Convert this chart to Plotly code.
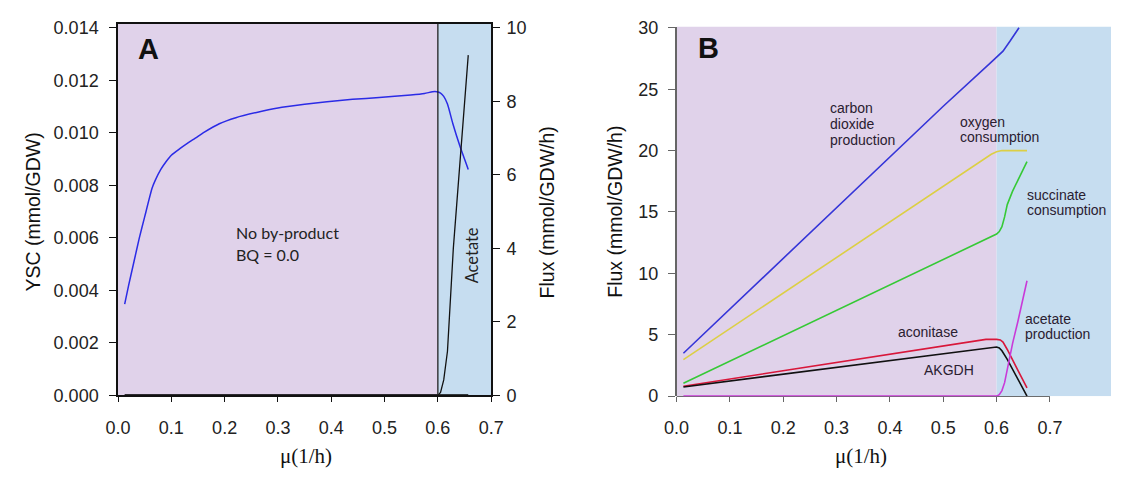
import plotly.graph_objects as go

# ---------------- Panel A data ----------------
ysc_mu = [0.0125, 0.02, 0.03, 0.04, 0.05, 0.064, 0.07, 0.08, 0.09, 0.10, 0.116, 0.13, 0.145,
          0.162, 0.19, 0.221, 0.26, 0.30, 0.35, 0.392, 0.44, 0.49, 0.549, 0.575, 0.59, 0.598,
          0.605, 0.611, 0.618, 0.628, 0.641, 0.657]
ysc_val = [0.00348, 0.0042, 0.0051, 0.0060, 0.0068, 0.0079, 0.0082, 0.0086, 0.0089, 0.00915,
           0.0094, 0.0096, 0.0098, 0.01003, 0.01035, 0.01058, 0.01078, 0.01095, 0.01109, 0.01119,
           0.01128, 0.01135, 0.01144, 0.0115, 0.01157, 0.01157, 0.01152, 0.01139, 0.0111, 0.01036,
           0.00952, 0.00861]

acetA_mu = [0.0125, 0.6, 0.605, 0.611, 0.618, 0.624, 0.629, 0.657]
acetA_flux = [0.0, 0.0, 0.08, 0.42, 1.2, 2.77, 4.0, 9.26]

otherA_mu = [0.0125, 0.657]
otherA_flux = [0.0, 0.0]

# ---------------- Panel B data ----------------
co2_mu = [0.0128, 0.1, 0.2, 0.3, 0.4, 0.5, 0.59, 0.6, 0.612, 0.625, 0.642]
co2_val = [3.49, 7.09, 11.22, 15.35, 19.48, 23.61, 27.2, 27.6, 28.1, 28.9, 30.0]

o2_mu = [0.0128, 0.1, 0.2, 0.3, 0.4, 0.5, 0.59, 0.6, 0.61, 0.62, 0.657]
o2_val = [2.97, 5.5, 8.4, 11.3, 14.2, 17.1, 19.7, 19.9, 20.0, 20.0, 20.0]

succ_mu = [0.0128, 0.1, 0.2, 0.3, 0.4, 0.5, 0.59, 0.6, 0.605, 0.61, 0.615, 0.62, 0.63, 0.64, 0.657]
succ_val = [1.05, 2.85, 4.91, 6.97, 9.03, 11.09, 12.94, 13.2, 13.4, 13.8, 14.6, 15.6, 16.7, 17.6, 19.1]

acon_mu = [0.0128, 0.1, 0.2, 0.3, 0.4, 0.5, 0.58, 0.6, 0.607, 0.612, 0.62, 0.64, 0.657]
acon_val = [0.81, 1.40, 2.07, 2.74, 3.41, 4.08, 4.62, 4.62, 4.58, 4.4, 3.8, 2.1, 0.68]

akgdh_mu = [0.0128, 0.1, 0.2, 0.3, 0.4, 0.5, 0.59, 0.6, 0.605, 0.61, 0.62, 0.657]
akgdh_val = [0.75, 1.24, 1.80, 2.37, 2.93, 3.49, 4.0, 4.0, 3.93, 3.7, 3.0, 0.0]

acetB_mu = [0.0128, 0.52, 0.535, 0.55, 0.6, 0.605, 0.61, 0.615, 0.62, 0.625, 0.63, 0.64, 0.657]
acetB_val = [0.0, 0.0, 0.06, 0.0, 0.0, 0.12, 0.45, 1.1, 2.2, 3.3, 4.3, 6.1, 9.4]

x_ticks = [0.0, 0.1, 0.2, 0.3, 0.4, 0.5, 0.6, 0.7]
ysc_ticks = [0.0, 0.002, 0.004, 0.006, 0.008, 0.010, 0.012, 0.014]
fluxA_ticks = [0, 2, 4, 6, 8, 10]
fluxB_ticks = [0, 5, 10, 15, 20, 25, 30]
switch_mu = 0.6

PURPLE = "#E0D2EA"
BLUE_BG = "#C6DDF0"
W, H = 1124, 479
SANS = "Liberation Sans, Arial"
TICKFONT = dict(family=SANS, size=18, color="#222222")

def px(x):
    return x / W

def py(y):
    return 1 - y / H

fig = go.Figure()

# Panel A traces
fig.add_trace(go.Scatter(x=ysc_mu, y=ysc_val, mode="lines",
                         line=dict(color="#2B2BE6", width=1.5, shape="spline", smoothing=0.6),
                         xaxis="x", yaxis="y", showlegend=False))
fig.add_trace(go.Scatter(x=otherA_mu, y=otherA_flux, mode="lines", line=dict(color="black", width=2),
                         xaxis="x", yaxis="y2", showlegend=False, cliponaxis=False))
fig.add_trace(go.Scatter(x=acetA_mu, y=acetA_flux, mode="lines", line=dict(color="#111111", width=1.3),
                         xaxis="x", yaxis="y2", showlegend=False))

# Panel B traces
series_B = [
    (co2_mu, co2_val, "#3535D8", True),
    (o2_mu, o2_val, "#DCCF45", True),
    (succ_mu, succ_val, "#36C936", True),
    (acon_mu, acon_val, "#D8173A", True),
    (akgdh_mu, akgdh_val, "#111111", True),
    (acetB_mu, acetB_val, "#C93AD8", False),
]
for xs, ys, c, clip in series_B:
    fig.add_trace(go.Scatter(x=xs, y=ys, mode="lines", line=dict(color=c, width=1.6),
                             xaxis="x2", yaxis="y3", showlegend=False, cliponaxis=clip))

shapes = [
    dict(type="rect", xref="x", yref="y domain", x0=0, x1=switch_mu, y0=0, y1=1,
         fillcolor=PURPLE, line=dict(width=0), layer="below"),
    dict(type="rect", xref="x", yref="y domain", x0=switch_mu, x1=0.7, y0=0, y1=1,
         fillcolor=BLUE_BG, line=dict(width=0), layer="below"),
    dict(type="line", xref="x", yref="y domain", x0=switch_mu, x1=switch_mu, y0=0, y1=1,
         line=dict(color="#222222", width=1.3)),
    dict(type="rect", xref="x2", yref="y3", x0=0, x1=switch_mu, y0=0, y1=30.1,
         fillcolor=PURPLE, line=dict(width=0), layer="below"),
    dict(type="rect", xref="x2", yref="y3", x0=switch_mu, x1=1.0, y0=0, y1=30.1,
         fillcolor=BLUE_BG, line=dict(width=0), layer="below"),
    dict(type="line", xref="x2", yref="y3 domain", x0=0, x1=0.7, y0=0, y1=0,
         line=dict(color="#666666", width=1.5), layer="below"),
]

LBL = dict(family=SANS, size=14, color="#2A2030")

def lbl(text, x, y):
    return dict(text=text, x=x, y=y, xref="x2", yref="y3", showarrow=False,
                xanchor="left", yanchor="middle", font=LBL)

def ptxt(text, x, y, size, family=SANS, angle=0):
    return dict(text=text, x=px(x), y=py(y), xref="paper", yref="paper", showarrow=False,
                xanchor="center", yanchor="middle", textangle=angle,
                font=dict(family=family, size=size, color="#111111"))

annotations = [
    dict(text="<b>A</b>", x=0.0577, y=0.01318, xref="x", yref="y", showarrow=False,
         xanchor="center", yanchor="middle", font=dict(family=SANS, size=29, color="#111111")),
    dict(text="No by-product", x=0.217, y=0.00622, xref="x", yref="y", showarrow=False,
         xanchor="left", yanchor="middle", font=dict(family="Lato", size=16, color="#222222")),
    dict(text="BQ = 0.0", x=0.217, y=0.00537, xref="x", yref="y", showarrow=False,
         xanchor="left", yanchor="middle", font=dict(family="Lato", size=16, color="#222222")),
    dict(text="Acetate", x=0.664, y=3.81, xref="x", yref="y2", showarrow=False, textangle=-90,
         xanchor="center", yanchor="middle", font=dict(family="Lato", size=16.5, color="#222222")),
    dict(text="<b>B</b>", x=0.0599, y=28.32, xref="x2", yref="y3", showarrow=False,
         xanchor="center", yanchor="middle", font=dict(family=SANS, size=29, color="#111111")),
    lbl("carbon", 0.2833, 23.46),
    lbl("dioxide", 0.2833, 22.15),
    lbl("production", 0.2833, 20.90),
    lbl("oxygen", 0.528, 22.34),
    lbl("consumption", 0.528, 21.09),
    lbl("succinate", 0.6533, 16.38),
    lbl("consumption", 0.6533, 15.15),
    lbl("aconitase", 0.4115, 5.22),
    lbl("AKGDH", 0.461, 2.09),
    lbl("acetate", 0.6496, 6.32),
    lbl("production", 0.6496, 5.10),
    ptxt("YSC (mmol/GDW)", 20, 212, 19.5, angle=-90),
    ptxt("Flux (mmol/GDW/h)", 547, 212, 19.5, angle=-90),
    ptxt("Flux (mmol/GDW/h)", 616, 212, 19.5, angle=-90),
    ptxt("μ(1/h)", 300, 465, 21, family="Liberation Serif, Times New Roman"),
    ptxt("μ(1/h)", 868, 465, 21, family="Liberation Serif, Times New Roman"),
]

yA_dom = [py(402.5), py(16.7)]
yB_dom = [py(403.3), py(19.3)]

fig.update_layout(
    width=W, height=H,
    margin=dict(l=0, r=0, t=0, b=0),
    paper_bgcolor="white", plot_bgcolor="rgba(0,0,0,0)",
    shapes=shapes, annotations=annotations,
    xaxis=dict(domain=[px(107.5), px(489.5)], range=[0, 0.7], tickvals=x_ticks, tickformat=".1f",
               showline=True, mirror=True, linecolor="#111111", linewidth=1.5,
               ticks="outside", ticklen=5, tickcolor="#111111", tickwidth=1, ticklabelstandoff=10,
               showgrid=False, zeroline=False, tickfont=TICKFONT, anchor="y"),
    yaxis=dict(domain=yA_dom, range=[0, 0.014147], tickvals=ysc_ticks, tickformat=".3f",
               showline=True, mirror=True, linecolor="#111111", linewidth=1.5,
               ticks="outside", ticklen=7, tickcolor="#111111", tickwidth=1, ticklabelstandoff=7,
               showgrid=False, zeroline=False, tickfont=TICKFONT, anchor="x"),
    yaxis2=dict(overlaying="y", side="right", anchor="x", range=[0, 10.105], tickvals=fluxA_ticks,
                showline=True, linecolor="#111111", linewidth=1.5,
                ticks="outside", ticklen=7, tickcolor="#111111", tickwidth=1, ticklabelstandoff=3,
                showgrid=False, zeroline=False, tickfont=TICKFONT),
    xaxis2=dict(domain=[px(679.3), 1.0], range=[0, 0.8145], tickvals=x_ticks, tickformat=".1f",
                showline=False, ticks="outside", ticklen=5, tickcolor="#666666", tickwidth=1,
                ticklabelstandoff=10,
                showgrid=False, zeroline=False, tickfont=TICKFONT, anchor="y3"),
    yaxis3=dict(domain=yB_dom, range=[0, 30.1], tickvals=fluxB_ticks,
                showline=True, linecolor="#666666", linewidth=1.5,
                ticks="outside", ticklen=7, tickcolor="#666666", tickwidth=1, ticklabelstandoff=6,
                showgrid=False, zeroline=False, tickfont=TICKFONT, anchor="x2"),
)

fig.write_html("out.html")
